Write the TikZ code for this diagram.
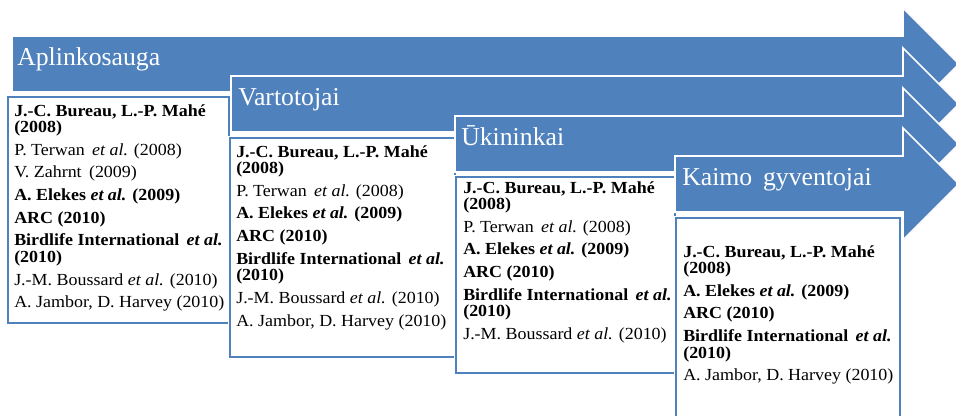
\documentclass[tikz,border=0pt]{standalone}
\usepackage{fontspec}
\setmainfont{Liberation Serif}
\newfontfamily\reffont[FakeStretch=1.06]{Liberation Serif}
\definecolor{stageblue}{RGB}{79,129,189}
\tikzset{
band/.style={fill=stageblue, draw=white, line width=1.2pt, line join=miter},
refbox/.style={fill=white, draw=white, double=stageblue, double distance=2.2pt, line width=0.7pt},
bandlabel/.style={anchor=base west, text=white, inner sep=0pt, font=\fontsize{19.3}{22}\selectfont},
reflist/.style={anchor=north west, align=left, inner sep=0pt, font=\reffont\fontsize{12.7}{12.4}\selectfont}
}
\newcommand{\refgap}{\\[4.6pt]}

\begin{document}
\begin{tikzpicture}[x=0.75pt, y=-0.75pt]
\useasboundingbox (0,0) rectangle (956,416);

\path[band] (12,36) -- (903,36) -- (903,8) -- (959,64) -- (903,120) -- (903,92) -- (12,92) -- cycle;
\node[bandlabel] (aplinkosauga) at (17,66) {Aplinkosauga};
\path[refbox] (8,97) rectangle (229,323);
\node[reflist] (aplinkosaugarefs) at (14,104) {%
\textbf{J.-C. Bureau, L.-P. Mahé}\\\textbf{(2008)}\refgap
P. Terwan \,{\itshape et al.} (2008)\refgap
V. Zahrnt \,(2009)\refgap
\textbf{A. Elekes {\itshape et al.} (2009)}\refgap
\textbf{ARC (2010)}\refgap
\textbf{Birdlife International \,{\itshape et al.}}\\\textbf{(2010)}\refgap
J.-M. Boussard {\itshape et al.} (2010)\refgap
A. Jambor, D. Harvey (2010)};

\path[band] (231,76) -- (903,76) -- (903,48) -- (959,104) -- (903,160) -- (903,132) -- (231,132) -- cycle;
\node[bandlabel] (vartotojai) at (238,106) {Vartotojai};
\path[refbox] (230,138) rectangle (455,357);
\node[reflist] (vartotojairefs) at (236,145) {%
\textbf{J.-C. Bureau, L.-P. Mahé}\\\textbf{(2008)}\refgap
P. Terwan \,{\itshape et al.} (2008)\refgap
\textbf{A. Elekes {\itshape et al.} (2009)}\refgap
\textbf{ARC (2010)}\refgap
\textbf{Birdlife International \,{\itshape et al.}}\\\textbf{(2010)}\refgap
J.-M. Boussard {\itshape et al.} (2010)\refgap
A. Jambor, D. Harvey (2010)};

\path[band] (455,116) -- (903,116) -- (903,88) -- (959,144) -- (903,200) -- (903,172) -- (455,172) -- cycle;
\node[bandlabel] (ukininkai) at (461,146) {Ūkininkai};
\path[refbox] (456,177) rectangle (675,373);
\node[reflist] (ukininkairefs) at (463,181) {%
\textbf{J.-C. Bureau, L.-P. Mahé}\\\textbf{(2008)}\refgap
P. Terwan \,{\itshape et al.} (2008)\refgap
\textbf{A. Elekes {\itshape et al.} (2009)}\refgap
\textbf{ARC (2010)}\refgap
\textbf{Birdlife International \,{\itshape et al.}}\\\textbf{(2010)}\refgap
J.-M. Boussard {\itshape et al.} (2010)};

\path[band] (675,156) -- (903,156) -- (903,128) -- (959,184) -- (903,240) -- (903,212) -- (675,212) -- cycle;
\node[bandlabel] (kaimo) at (682,186) {Kaimo \,gyventojai};
\path[refbox] (676,218) rectangle (900,430);
\node[reflist] (kaimorefs) at (683,245) {%
\textbf{J.-C. Bureau, L.-P. Mahé}\\\textbf{(2008)}\refgap
\textbf{A. Elekes {\itshape et al.} (2009)}\refgap
\textbf{ARC (2010)}\refgap
\textbf{Birdlife International \,{\itshape et al.}}\\\textbf{(2010)}\refgap
A. Jambor, D. Harvey (2010)};

\end{tikzpicture}
\end{document}
